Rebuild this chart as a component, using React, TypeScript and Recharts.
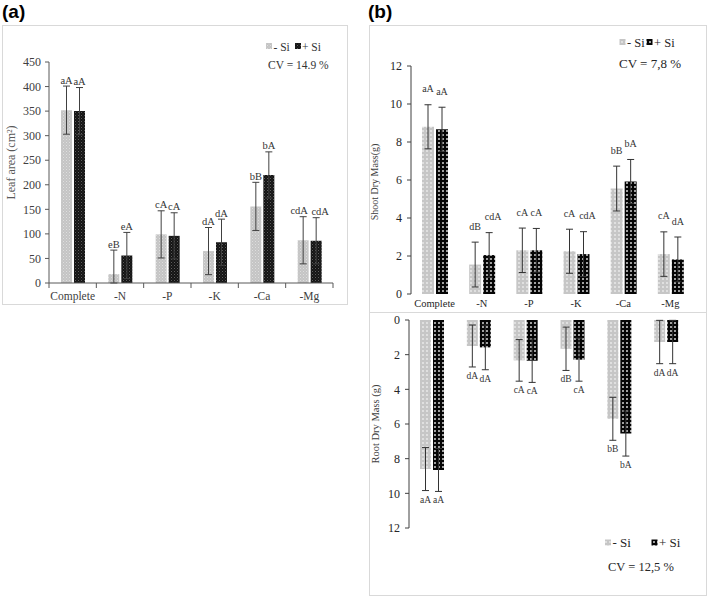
import React from 'react';
import { BarChart, Bar, XAxis, YAxis, ErrorBar, LabelList } from 'recharts';

// ---------- shared ----------
const categories = ['Complete', '-N', '-P', '-K', '-Ca', '-Mg'];

// ---------- (a) Leaf area (cm²) ----------
const leafNoSi = [352, 18, 99, 65, 156, 87];
const leafSi = [350, 56, 96, 83, 220, 86];
const leafNoSiErr = [49, 49, 48, 48, 49, 48];
const leafSiErr = [48, 47, 47, 47, 47, 47];
const leafNoSiLetters = ['aA', 'eB', 'cA', 'dA', 'bB', 'cdA'];
const leafSiLetters = ['aA', 'eA', 'cA', 'dA', 'bA', 'cdA'];
const leafTicks = [0, 50, 100, 150, 200, 250, 300, 350, 400, 450];

// ---------- (b) Shoot dry mass (g) ----------
const shootNoSi = [8.8, 1.55, 2.3, 2.25, 5.55, 2.1];
const shootSi = [8.67, 2.05, 2.3, 2.1, 5.92, 1.82];
const shootNoSiErr = [1.16, 1.18, 1.17, 1.16, 1.18, 1.17];
const shootSiErr = [1.16, 1.18, 1.15, 1.18, 1.16, 1.18];
const shootNoSiLetters = ['aA', 'dB', 'cA', 'cA', 'bB', 'cA'];
const shootSiLetters = ['aA', 'cdA', 'cA', 'cdA', 'bA', 'dA'];
const shootTicks = [0, 2, 4, 6, 8, 10, 12];

// ---------- (b) Root dry mass (g) ----------
const rootNoSi = [8.6, 1.5, 2.33, 1.66, 5.7, 1.27];
const rootSi = [8.65, 1.58, 2.35, 2.29, 6.55, 1.27];
const rootNoSiErr = [1.24, 1.21, 1.2, 1.25, 1.24, 1.25];
const rootSiErr = [1.24, 1.29, 1.25, 1.24, 1.3, 1.25];
const rootNoSiLetters = ['aA', 'dA', 'cA', 'dB', 'bB', 'dA'];
const rootSiLetters = ['aA', 'dA', 'cA', 'cA', 'bA', 'dA'];
const rootTicks = [0, 2, 4, 6, 8, 10, 12];

const build = (a: number[], b: number[], ea: number[], eb: number[]) =>
  categories.map((c, i) => ({
    name: c,
    noSi: a[i],
    si: b[i],
    noSiErr: [Math.min(ea[i], a[i]), ea[i]],
    siErr: [Math.min(eb[i], b[i]), eb[i]],
  }));

const leafData = build(leafNoSi, leafSi, leafNoSiErr, leafSiErr);
const shootData = build(shootNoSi, shootSi, shootNoSiErr, shootSiErr);
const rootData = build(rootNoSi, rootSi, rootNoSiErr, rootSiErr);

const SERIF = '"Liberation Serif", "Times New Roman", serif';
const SANS = '"Liberation Sans", Arial, sans-serif';

// side: -1 for the left bar of a pair, +1 for the right bar; long labels are nudged outward
const makeLetterLabel =
  (letters: string[], errs: number[], mode: 'up' | 'down', gap: number, fontSize: number, fill: string, side: number) =>
  (props: any) => {
    const index = props.index;
    const value = Number(props.value);
    const vb = props.viewBox && props.viewBox.width !== undefined ? props.viewBox : props;
    const x = Number(vb.x);
    const y = Number(vb.y);
    const w = Number(vb.width);
    const h = Number(vb.height);
    if (!isFinite(x) || !isFinite(y) || !value) return null;
    const top = Math.min(y, y + h);
    const bottom = Math.max(y, y + h);
    const ppu = Math.abs(h) / Math.abs(value);
    const txt = letters[index];
    const cx = x + w / 2 + (txt.length > 2 ? side * 4 : 0);
    const ty = mode === 'up' ? top - errs[index] * ppu - gap : bottom + errs[index] * ppu + gap;
    return (
      <text x={cx} y={ty} textAnchor="middle" fontSize={fontSize} fill={fill} fontFamily={SERIF}>
        {txt}
      </text>
    );
  };

const makeXTick = (boundaries: boolean, dy: number, fontSize: number, fill: string) => (props: any) => {
  const { x, y, payload } = props;
  const idx = props.index ?? payload.index;
  const off = payload.offset ?? 0;
  return (
    <g>
      {boundaries && <line x1={x - off} x2={x - off} y1={y} y2={y + 5} stroke="#595959" strokeWidth={1} />}
      {boundaries && idx === categories.length - 1 && (
        <line x1={x + off} x2={x + off} y1={y} y2={y + 5} stroke="#595959" strokeWidth={1} />
      )}
      <text x={x} y={y + dy} textAnchor="middle" fontSize={fontSize} fill={fill} fontFamily={SERIF}>
        {payload.value}
      </text>
    </g>
  );
};

const makeYLabel = (text: string, cxLocal: number, dyCenter: number, fontSize: number, fill: string) => (props: any) => {
  const vb = props.viewBox || {};
  const cx = cxLocal;
  const cy = Number(vb.y) + Number(vb.height) / 2 + dyCenter;
  return (
    <text
      x={cx}
      y={cy}
      transform={`rotate(-90 ${cx} ${cy})`}
      textAnchor="middle"
      dominantBaseline="central"
      fontSize={fontSize}
      fill={fill}
      fontFamily={SERIF}
    >
      {text}
    </text>
  );
};

const Patterns = () => (
  <svg width={0} height={0} style={{ position: 'absolute' }}>
    <defs>
      <pattern id="lightA" width="3" height="3" patternUnits="userSpaceOnUse">
        <rect width="3" height="3" fill="#c4c4c4" />
        <rect x="0" y="0" width="1" height="1" fill="#dedede" />
        <rect x="1.5" y="1.5" width="1" height="1" fill="#d6d6d6" />
      </pattern>
      <pattern id="darkA" width="3" height="3" patternUnits="userSpaceOnUse">
        <rect width="3" height="3" fill="#141414" />
        <rect x="0" y="0" width="1" height="1" fill="#5c5c5c" />
        <rect x="1.5" y="1.5" width="1" height="1" fill="#3a3a3a" />
      </pattern>
      <pattern id="lightB" width="4" height="4" patternUnits="userSpaceOnUse">
        <rect width="4" height="4" fill="#c6c6c6" />
        <circle cx="2" cy="2" r="0.9" fill="#ececec" />
      </pattern>
      <pattern id="darkB" width="4" height="4" patternUnits="userSpaceOnUse">
        <rect width="4" height="4" fill="#050505" />
        <circle cx="2" cy="2" r="0.95" fill="#e2e2e2" />
      </pattern>
    </defs>
  </svg>
);

const axisStroke = '#595959';

export default function App() {
  return (
    <div
      style={{
        position: 'absolute',
        left: 0,
        top: 0,
        width: 708,
        height: 598,
        background: '#fff',
        fontFamily: SERIF,
        overflow: 'hidden',
      }}
    >
      <Patterns />
      {/* frames */}
      <div style={{ position: 'absolute', left: 2, top: 25, width: 346, height: 280, border: '1px solid #d9d9d9', boxSizing: 'border-box' }} />
      <div style={{ position: 'absolute', left: 369, top: 25, width: 338, height: 571, border: '1px solid #d9d9d9', boxSizing: 'border-box' }} />
      <div style={{ position: 'absolute', left: 369, top: 312, width: 338, height: 1, background: '#d9d9d9' }} />

      {/* (a) Leaf area */}
      <div style={{ position: 'absolute', left: 0, top: 25 }}>
        <BarChart width={348} height={280} data={leafData} margin={{ top: 37, right: 15, bottom: 0, left: 0 }} barSize={11} barGap={2}>
          <XAxis
            dataKey="name"
            height={22}
            axisLine={{ stroke: axisStroke }}
            tickLine={false}
            tickSize={0}
            tickMargin={0}
            interval={0}
            tick={makeXTick(true, 17, 11.5, '#404040')}
          />
          <YAxis
            width={49}
            domain={[0, 450]}
            ticks={leafTicks}
            interval={0}
            axisLine={{ stroke: axisStroke }}
            tickLine={{ stroke: axisStroke }}
            tickSize={4}
            tickMargin={4}
            tick={{ fontSize: 12, fill: '#404040', fontFamily: SERIF }}
            label={{ content: makeYLabel('Leaf area (cm²)', 11, -10, 12, '#595959') } as any}
          />
          <Bar dataKey="noSi" name="- Si" fill="url(#lightA)" isAnimationActive={false}>
            <ErrorBar dataKey="noSiErr" width={3.5} stroke="#404040" strokeWidth={1} direction="y" />
            <LabelList dataKey="noSi" content={makeLetterLabel(leafNoSiLetters, leafNoSiErr, 'up', 2.5, 10.5, '#333', -1)} />
          </Bar>
          <Bar dataKey="si" name="+ Si" fill="url(#darkA)" isAnimationActive={false}>
            <ErrorBar dataKey="siErr" width={3.5} stroke="#404040" strokeWidth={1} direction="y" />
            <LabelList dataKey="si" content={makeLetterLabel(leafSiLetters, leafSiErr, 'up', 2.5, 10.5, '#333', 1)} />
          </Bar>
        </BarChart>
      </div>

      {/* (b) Shoot dry mass */}
      <div style={{ position: 'absolute', left: 369, top: 25 }}>
        <BarChart width={337} height={288} data={shootData} margin={{ top: 41, right: 12, bottom: 0, left: 0 }} barSize={12} barGap={2}>
          <XAxis
            dataKey="name"
            height={19}
            axisLine={false}
            tickLine={false}
            tickSize={0}
            tickMargin={0}
            interval={0}
            tick={makeXTick(false, 13, 10.5, '#262626')}
          />
          <YAxis
            width={42}
            domain={[0, 12]}
            ticks={shootTicks}
            interval={0}
            axisLine={{ stroke: '#404040' }}
            tickLine={{ stroke: '#404040' }}
            tickSize={4}
            tickMargin={5}
            tick={{ fontSize: 12, fill: '#262626', fontFamily: SERIF }}
            label={{ content: makeYLabel('Shoot Dry Mass(g)', 5, 2, 10, '#404040') } as any}
          />
          <Bar dataKey="noSi" name="- Si" fill="url(#lightB)" isAnimationActive={false}>
            <ErrorBar dataKey="noSiErr" width={3.5} stroke="#333" strokeWidth={1} direction="y" />
            <LabelList dataKey="noSi" content={makeLetterLabel(shootNoSiLetters, shootNoSiErr, 'up', 12.5, 10, '#333', -1)} />
          </Bar>
          <Bar dataKey="si" name="+ Si" fill="url(#darkB)" isAnimationActive={false}>
            <ErrorBar dataKey="siErr" width={3.5} stroke="#333" strokeWidth={1} direction="y" />
            <LabelList dataKey="si" content={makeLetterLabel(shootSiLetters, shootSiErr, 'up', 12.5, 10, '#333', 1)} />
          </Bar>
        </BarChart>
      </div>

      {/* (b) Root dry mass (inverted) */}
      <div style={{ position: 'absolute', left: 369, top: 313 }}>
        <BarChart width={337} height={283} data={rootData} margin={{ top: 7, right: 16, bottom: 68, left: 0 }} barSize={11} barGap={2}>
          <XAxis dataKey="name" hide />
          <YAxis
            width={40}
            domain={[0, 12]}
            ticks={rootTicks}
            interval={0}
            reversed
            axisLine={{ stroke: '#404040' }}
            tickLine={{ stroke: '#404040' }}
            tickSize={4}
            tickMargin={5}
            tick={{ fontSize: 12, fill: '#262626', fontFamily: SERIF }}
            label={{ content: makeYLabel('Root Dry Mass (g)', 6, 0, 10.5, '#404040') } as any}
          />
          <Bar dataKey="noSi" name="- Si" fill="url(#lightB)" isAnimationActive={false}>
            <ErrorBar dataKey="noSiErr" width={3.5} stroke="#333" strokeWidth={1} direction="y" />
            <LabelList dataKey="noSi" content={makeLetterLabel(rootNoSiLetters, rootNoSiErr, 'down', 12, 9.5, '#333', -1)} />
          </Bar>
          <Bar dataKey="si" name="+ Si" fill="url(#darkB)" isAnimationActive={false}>
            <ErrorBar dataKey="siErr" width={3.5} stroke="#333" strokeWidth={1} direction="y" />
            <LabelList dataKey="si" content={makeLetterLabel(rootSiLetters, rootSiErr, 'down', 12, 9.5, '#333', 1)} />
          </Bar>
        </BarChart>
      </div>

      {/* overlay: panel letters, legends, CV */}
      <svg width={708} height={598} style={{ position: 'absolute', left: 0, top: 0, pointerEvents: 'none' }}>
        <text x={2} y={18} fontFamily={SANS} fontWeight="bold" fontSize={19} fill="#000">(a)</text>
        <text x={368} y={18} fontFamily={SANS} fontWeight="bold" fontSize={19} fill="#000">(b)</text>

        {/* legend (a) */}
        <rect x={266} y={43} width={6} height={6} fill="url(#lightA)" />
        <text x={273.5} y={50.5} fontSize={11.5} fill="#333" fontFamily={SERIF}>- Si</text>
        <rect x={295} y={43} width={6} height={6} fill="url(#darkA)" />
        <text x={302} y={50.5} fontSize={11.5} fill="#333" fontFamily={SERIF}>+ Si</text>
        <text x={268} y={69} fontSize={11.5} fill="#333" fontFamily={SERIF}>CV = 14.9 %</text>

        {/* legend (b) shoot */}
        <rect x={619.5} y={39} width={6} height={6} fill="url(#lightB)" />
        <text x={627} y={46.5} fontSize={12.5} fill="#262626" fontFamily={SERIF}>- Si</text>
        <rect x={646.5} y={39} width={6} height={6} fill="url(#darkB)" />
        <text x={654} y={46.5} fontSize={12.5} fill="#262626" fontFamily={SERIF}>+ Si</text>
        <text x={619} y={67.5} fontSize={13} fill="#262626" fontFamily={SERIF}>CV = 7,8 %</text>

        {/* legend (b) root */}
        <rect x={605} y={539.5} width={6} height={6} fill="url(#lightB)" />
        <text x={612.5} y={547} fontSize={13} fill="#262626" fontFamily={SERIF}>- Si</text>
        <rect x={651.5} y={539.5} width={6} height={6} fill="url(#darkB)" />
        <text x={659} y={547} fontSize={13} fill="#262626" fontFamily={SERIF}>+ Si</text>
        <text x={608} y={571} fontSize={12.5} fill="#262626" fontFamily={SERIF}>CV = 12,5 %</text>
      </svg>
    </div>
  );
}
